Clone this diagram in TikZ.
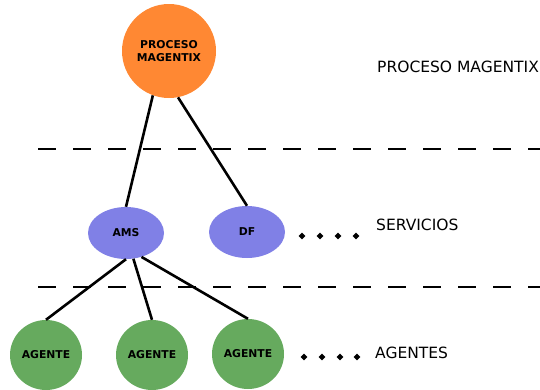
\documentclass[tikz,border=0pt]{standalone}
\usepackage{fontspec}
\setmainfont{DejaVu Sans}
\usetikzlibrary{shapes.geometric}
\definecolor{procorange}{RGB}{255,136,51}
\definecolor{servblue}{RGB}{128,128,230}
\definecolor{agentgreen}{RGB}{102,170,94}
\begin{document}
\begin{tikzpicture}[x=1pt,y=-1pt,
  conn/.style={line width=2.6pt},
  sep/.style={line width=2.6pt, dash pattern=on 18pt off 17pt},
  nodetext/.style={font=\fontsize{10.8}{13}\selectfont\bfseries, align=center, inner sep=0pt},
  proc/.style={circle, fill=procorange, minimum size=94pt, nodetext},
  serv/.style={ellipse, fill=servblue, minimum width=76pt, minimum height=52pt, nodetext},
  agent/.style={ellipse, fill=agentgreen, minimum width=72pt, minimum height=70pt, nodetext},
  dot/.style={diamond, fill=black, inner sep=0pt, minimum size=7pt},
  lbl/.style={font=\fontsize{15.5}{18}\selectfont, anchor=west, inner sep=0pt}]
\useasboundingbox (0,0) rectangle (540,389);
\node[proc] (p) at (169,51) {PROCESO\\MAGENTIX};
\node[serv] (ams) at (126,233) {AMS};
\node[serv] (df) at (247,232) {DF};
\node[agent] (a1) at (46,355) {AGENTE};
\node[agent] (a2) at (152,355) {AGENTE};
\node[agent] (a3) at (248,354) {AGENTE};
\coordinate (l1a) at (38,149);
\coordinate (l1b) at (540,149);
\coordinate (l2a) at (38,287);
\coordinate (l2b) at (540,287);
\draw[sep] (l1a) -- (l1b);
\draw[sep] (l2a) -- (l2b);
\draw[conn] (p.-110) -- (ams.north);
\draw[conn] (p.-79) -- (df.north);
\draw[conn] (ams.south) -- (a1.north);
\draw[conn] (ams.-74) -- (a2.north);
\draw[conn] (ams.-57) -- (a3.north);
\foreach \i/\x in {1/302,2/320,3/338,4/356}{\node[dot] (s\i) at (\x,236) {};}
\foreach \i/\x in {1/304,2/322,3/340,4/357}{\node[dot] (g\i) at (\x,357) {};}
\node[lbl] (lp) at (377,67) {PROCESO MAGENTIX};
\node[lbl] (ls) at (376,225) {SERVICIOS};
\node[lbl] (la) at (375,353) {AGENTES};
\end{tikzpicture}
\end{document}
